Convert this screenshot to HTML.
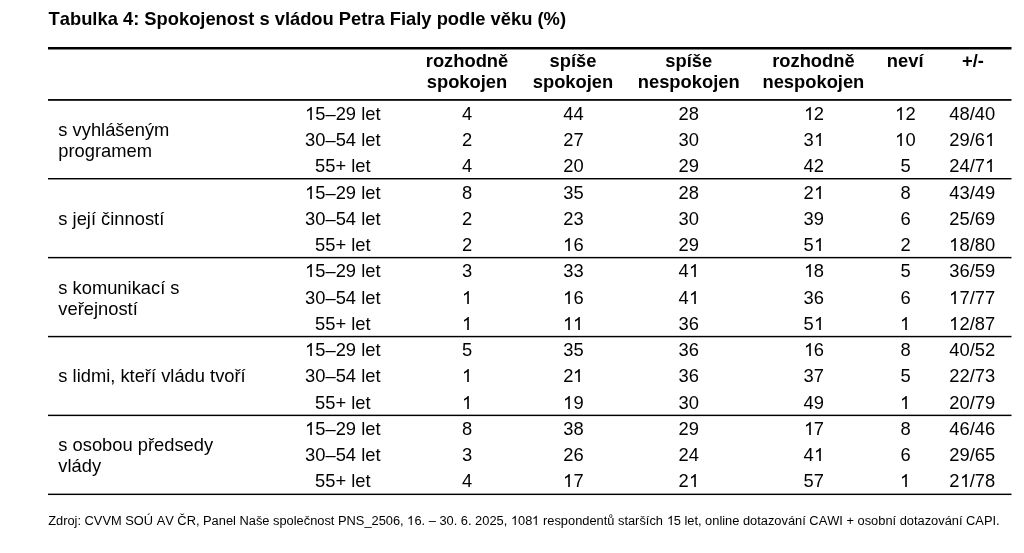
<!DOCTYPE html>
<html lang="cs"><head><meta charset="utf-8"><title>Tabulka 4</title>
<style>
html,body{margin:0;padding:0;background:#fff;}
body{width:1024px;height:553px;position:relative;overflow:hidden;font-family:"Liberation Sans",sans-serif;color:#000;font-kerning:none;}
#w{position:absolute;left:0;top:0;width:1024px;height:553px;will-change:transform;}
.t{position:absolute;white-space:nowrap;line-height:20px;font-size:18.33px;}
.c{text-align:center;width:160px;margin-left:-80px;}
.b{font-weight:bold;}
svg{position:absolute;left:0;top:0;}
.o{position:relative;color:transparent;}
.o svg{left:0;top:0;width:.55615em;height:21px;fill:#000;}
.f .o svg{height:15px;}
</style></head><body><div id="w">
<div class="t b" style="left:48.6px;top:9px;font-size:18.33px">Tabulka 4: Spokojenost s vládou Petra Fialy podle věku (%)</div>
<svg width="1024" height="553" viewBox="0 0 1024 553">
<rect x="48" y="47.0" width="963.5" height="2.5" fill="#000"/>
<rect x="48" y="99.05" width="963.5" height="1.75" fill="#000"/>
<rect x="48" y="178.0" width="963.5" height="1.45" fill="#000"/>
<rect x="48" y="256.9" width="963.5" height="1.45" fill="#000"/>
<rect x="48" y="335.85" width="963.5" height="1.45" fill="#000"/>
<rect x="48" y="414.65" width="963.5" height="1.45" fill="#000"/>
<rect x="48" y="493.6" width="963.5" height="1.45" fill="#000"/>
</svg>
<div class="t b c" style="left:467px;top:51px">rozhodně</div>
<div class="t b c" style="left:467px;top:72px">spokojen</div>
<div class="t b c" style="left:573px;top:51px">spíše</div>
<div class="t b c" style="left:573px;top:72px">spokojen</div>
<div class="t b c" style="left:688.7px;top:51px">spíše</div>
<div class="t b c" style="left:688.7px;top:72px">nespokojen</div>
<div class="t b c" style="left:813.4px;top:51px">rozhodně</div>
<div class="t b c" style="left:813.4px;top:72px">nespokojen</div>
<div class="t b c" style="left:905.2px;top:51px">neví</div>
<div class="t b c" style="left:973.0px;top:51px">+/-</div>
<div class="t c" style="left:342.8px;top:104px"><span class="o">1<svg viewBox="0 -1899.4 1139 2346.3"><path transform="scale(1,-1)" d="M763 0H583V1147Q518 1085 412.5 1023T223 930V1104Q373 1174.5 485.5 1275T644 1466H763Z"/></svg></span>5–29 let</div>
<div class="t c" style="left:467px;top:104px">4</div>
<div class="t c" style="left:573.4px;top:104px">44</div>
<div class="t c" style="left:688.7px;top:104px">28</div>
<div class="t c" style="left:813.8px;top:104px"><span class="o">1<svg viewBox="0 -1899.4 1139 2346.3"><path transform="scale(1,-1)" d="M763 0H583V1147Q518 1085 412.5 1023T223 930V1104Q373 1174.5 485.5 1275T644 1466H763Z"/></svg></span>2</div>
<div class="t c" style="left:905.6px;top:104px"><span class="o">1<svg viewBox="0 -1899.4 1139 2346.3"><path transform="scale(1,-1)" d="M763 0H583V1147Q518 1085 412.5 1023T223 930V1104Q373 1174.5 485.5 1275T644 1466H763Z"/></svg></span>2</div>
<div class="t c" style="left:972.3px;top:104px">48/40</div>
<div class="t c" style="left:342.8px;top:130px">30–54 let</div>
<div class="t c" style="left:467px;top:130px">2</div>
<div class="t c" style="left:573.4px;top:130px">27</div>
<div class="t c" style="left:688.7px;top:130px">30</div>
<div class="t c" style="left:813.8px;top:130px">3<span class="o">1<svg viewBox="0 -1899.4 1139 2346.3"><path transform="scale(1,-1)" d="M763 0H583V1147Q518 1085 412.5 1023T223 930V1104Q373 1174.5 485.5 1275T644 1466H763Z"/></svg></span></div>
<div class="t c" style="left:905.6px;top:130px"><span class="o">1<svg viewBox="0 -1899.4 1139 2346.3"><path transform="scale(1,-1)" d="M763 0H583V1147Q518 1085 412.5 1023T223 930V1104Q373 1174.5 485.5 1275T644 1466H763Z"/></svg></span>0</div>
<div class="t c" style="left:972.3px;top:130px">29/6<span class="o">1<svg viewBox="0 -1899.4 1139 2346.3"><path transform="scale(1,-1)" d="M763 0H583V1147Q518 1085 412.5 1023T223 930V1104Q373 1174.5 485.5 1275T644 1466H763Z"/></svg></span></div>
<div class="t c" style="left:342.8px;top:156px">55+ let</div>
<div class="t c" style="left:467px;top:156px">4</div>
<div class="t c" style="left:573.4px;top:156px">20</div>
<div class="t c" style="left:688.7px;top:156px">29</div>
<div class="t c" style="left:813.8px;top:156px">42</div>
<div class="t c" style="left:905.6px;top:156px">5</div>
<div class="t c" style="left:972.3px;top:156px">24/7<span class="o">1<svg viewBox="0 -1899.4 1139 2346.3"><path transform="scale(1,-1)" d="M763 0H583V1147Q518 1085 412.5 1023T223 930V1104Q373 1174.5 485.5 1275T644 1466H763Z"/></svg></span></div>
<div class="t" style="left:58.3px;top:120px">s vyhlášeným</div>
<div class="t" style="left:58.3px;top:141px">programem</div>
<div class="t c" style="left:342.8px;top:183px"><span class="o">1<svg viewBox="0 -1899.4 1139 2346.3"><path transform="scale(1,-1)" d="M763 0H583V1147Q518 1085 412.5 1023T223 930V1104Q373 1174.5 485.5 1275T644 1466H763Z"/></svg></span>5–29 let</div>
<div class="t c" style="left:467px;top:183px">8</div>
<div class="t c" style="left:573.4px;top:183px">35</div>
<div class="t c" style="left:688.7px;top:183px">28</div>
<div class="t c" style="left:813.8px;top:183px">2<span class="o">1<svg viewBox="0 -1899.4 1139 2346.3"><path transform="scale(1,-1)" d="M763 0H583V1147Q518 1085 412.5 1023T223 930V1104Q373 1174.5 485.5 1275T644 1466H763Z"/></svg></span></div>
<div class="t c" style="left:905.6px;top:183px">8</div>
<div class="t c" style="left:972.3px;top:183px">43/49</div>
<div class="t c" style="left:342.8px;top:209px">30–54 let</div>
<div class="t c" style="left:467px;top:209px">2</div>
<div class="t c" style="left:573.4px;top:209px">23</div>
<div class="t c" style="left:688.7px;top:209px">30</div>
<div class="t c" style="left:813.8px;top:209px">39</div>
<div class="t c" style="left:905.6px;top:209px">6</div>
<div class="t c" style="left:972.3px;top:209px">25/69</div>
<div class="t c" style="left:342.8px;top:235px">55+ let</div>
<div class="t c" style="left:467px;top:235px">2</div>
<div class="t c" style="left:573.4px;top:235px"><span class="o">1<svg viewBox="0 -1899.4 1139 2346.3"><path transform="scale(1,-1)" d="M763 0H583V1147Q518 1085 412.5 1023T223 930V1104Q373 1174.5 485.5 1275T644 1466H763Z"/></svg></span>6</div>
<div class="t c" style="left:688.7px;top:235px">29</div>
<div class="t c" style="left:813.8px;top:235px">5<span class="o">1<svg viewBox="0 -1899.4 1139 2346.3"><path transform="scale(1,-1)" d="M763 0H583V1147Q518 1085 412.5 1023T223 930V1104Q373 1174.5 485.5 1275T644 1466H763Z"/></svg></span></div>
<div class="t c" style="left:905.6px;top:235px">2</div>
<div class="t c" style="left:972.3px;top:235px"><span class="o">1<svg viewBox="0 -1899.4 1139 2346.3"><path transform="scale(1,-1)" d="M763 0H583V1147Q518 1085 412.5 1023T223 930V1104Q373 1174.5 485.5 1275T644 1466H763Z"/></svg></span>8/80</div>
<div class="t" style="left:58.3px;top:209px">s její činností</div>
<div class="t c" style="left:342.8px;top:261px"><span class="o">1<svg viewBox="0 -1899.4 1139 2346.3"><path transform="scale(1,-1)" d="M763 0H583V1147Q518 1085 412.5 1023T223 930V1104Q373 1174.5 485.5 1275T644 1466H763Z"/></svg></span>5–29 let</div>
<div class="t c" style="left:467px;top:261px">3</div>
<div class="t c" style="left:573.4px;top:261px">33</div>
<div class="t c" style="left:688.7px;top:261px">4<span class="o">1<svg viewBox="0 -1899.4 1139 2346.3"><path transform="scale(1,-1)" d="M763 0H583V1147Q518 1085 412.5 1023T223 930V1104Q373 1174.5 485.5 1275T644 1466H763Z"/></svg></span></div>
<div class="t c" style="left:813.8px;top:261px"><span class="o">1<svg viewBox="0 -1899.4 1139 2346.3"><path transform="scale(1,-1)" d="M763 0H583V1147Q518 1085 412.5 1023T223 930V1104Q373 1174.5 485.5 1275T644 1466H763Z"/></svg></span>8</div>
<div class="t c" style="left:905.6px;top:261px">5</div>
<div class="t c" style="left:972.3px;top:261px">36/59</div>
<div class="t c" style="left:342.8px;top:288px">30–54 let</div>
<div class="t c" style="left:467px;top:288px"><span class="o">1<svg viewBox="0 -1899.4 1139 2346.3"><path transform="scale(1,-1)" d="M763 0H583V1147Q518 1085 412.5 1023T223 930V1104Q373 1174.5 485.5 1275T644 1466H763Z"/></svg></span></div>
<div class="t c" style="left:573.4px;top:288px"><span class="o">1<svg viewBox="0 -1899.4 1139 2346.3"><path transform="scale(1,-1)" d="M763 0H583V1147Q518 1085 412.5 1023T223 930V1104Q373 1174.5 485.5 1275T644 1466H763Z"/></svg></span>6</div>
<div class="t c" style="left:688.7px;top:288px">4<span class="o">1<svg viewBox="0 -1899.4 1139 2346.3"><path transform="scale(1,-1)" d="M763 0H583V1147Q518 1085 412.5 1023T223 930V1104Q373 1174.5 485.5 1275T644 1466H763Z"/></svg></span></div>
<div class="t c" style="left:813.8px;top:288px">36</div>
<div class="t c" style="left:905.6px;top:288px">6</div>
<div class="t c" style="left:972.3px;top:288px"><span class="o">1<svg viewBox="0 -1899.4 1139 2346.3"><path transform="scale(1,-1)" d="M763 0H583V1147Q518 1085 412.5 1023T223 930V1104Q373 1174.5 485.5 1275T644 1466H763Z"/></svg></span>7/77</div>
<div class="t c" style="left:342.8px;top:314px">55+ let</div>
<div class="t c" style="left:467px;top:314px"><span class="o">1<svg viewBox="0 -1899.4 1139 2346.3"><path transform="scale(1,-1)" d="M763 0H583V1147Q518 1085 412.5 1023T223 930V1104Q373 1174.5 485.5 1275T644 1466H763Z"/></svg></span></div>
<div class="t c" style="left:573.4px;top:314px"><span class="o">1<svg viewBox="0 -1899.4 1139 2346.3"><path transform="scale(1,-1)" d="M763 0H583V1147Q518 1085 412.5 1023T223 930V1104Q373 1174.5 485.5 1275T644 1466H763Z"/></svg></span><span class="o">1<svg viewBox="0 -1899.4 1139 2346.3"><path transform="scale(1,-1)" d="M763 0H583V1147Q518 1085 412.5 1023T223 930V1104Q373 1174.5 485.5 1275T644 1466H763Z"/></svg></span></div>
<div class="t c" style="left:688.7px;top:314px">36</div>
<div class="t c" style="left:813.8px;top:314px">5<span class="o">1<svg viewBox="0 -1899.4 1139 2346.3"><path transform="scale(1,-1)" d="M763 0H583V1147Q518 1085 412.5 1023T223 930V1104Q373 1174.5 485.5 1275T644 1466H763Z"/></svg></span></div>
<div class="t c" style="left:905.6px;top:314px"><span class="o">1<svg viewBox="0 -1899.4 1139 2346.3"><path transform="scale(1,-1)" d="M763 0H583V1147Q518 1085 412.5 1023T223 930V1104Q373 1174.5 485.5 1275T644 1466H763Z"/></svg></span></div>
<div class="t c" style="left:972.3px;top:314px"><span class="o">1<svg viewBox="0 -1899.4 1139 2346.3"><path transform="scale(1,-1)" d="M763 0H583V1147Q518 1085 412.5 1023T223 930V1104Q373 1174.5 485.5 1275T644 1466H763Z"/></svg></span>2/87</div>
<div class="t" style="left:58.3px;top:278px">s komunikací s</div>
<div class="t" style="left:58.3px;top:299px">veřejností</div>
<div class="t c" style="left:342.8px;top:340px"><span class="o">1<svg viewBox="0 -1899.4 1139 2346.3"><path transform="scale(1,-1)" d="M763 0H583V1147Q518 1085 412.5 1023T223 930V1104Q373 1174.5 485.5 1275T644 1466H763Z"/></svg></span>5–29 let</div>
<div class="t c" style="left:467px;top:340px">5</div>
<div class="t c" style="left:573.4px;top:340px">35</div>
<div class="t c" style="left:688.7px;top:340px">36</div>
<div class="t c" style="left:813.8px;top:340px"><span class="o">1<svg viewBox="0 -1899.4 1139 2346.3"><path transform="scale(1,-1)" d="M763 0H583V1147Q518 1085 412.5 1023T223 930V1104Q373 1174.5 485.5 1275T644 1466H763Z"/></svg></span>6</div>
<div class="t c" style="left:905.6px;top:340px">8</div>
<div class="t c" style="left:972.3px;top:340px">40/52</div>
<div class="t c" style="left:342.8px;top:366px">30–54 let</div>
<div class="t c" style="left:467px;top:366px"><span class="o">1<svg viewBox="0 -1899.4 1139 2346.3"><path transform="scale(1,-1)" d="M763 0H583V1147Q518 1085 412.5 1023T223 930V1104Q373 1174.5 485.5 1275T644 1466H763Z"/></svg></span></div>
<div class="t c" style="left:573.4px;top:366px">2<span class="o">1<svg viewBox="0 -1899.4 1139 2346.3"><path transform="scale(1,-1)" d="M763 0H583V1147Q518 1085 412.5 1023T223 930V1104Q373 1174.5 485.5 1275T644 1466H763Z"/></svg></span></div>
<div class="t c" style="left:688.7px;top:366px">36</div>
<div class="t c" style="left:813.8px;top:366px">37</div>
<div class="t c" style="left:905.6px;top:366px">5</div>
<div class="t c" style="left:972.3px;top:366px">22/73</div>
<div class="t c" style="left:342.8px;top:393px">55+ let</div>
<div class="t c" style="left:467px;top:393px"><span class="o">1<svg viewBox="0 -1899.4 1139 2346.3"><path transform="scale(1,-1)" d="M763 0H583V1147Q518 1085 412.5 1023T223 930V1104Q373 1174.5 485.5 1275T644 1466H763Z"/></svg></span></div>
<div class="t c" style="left:573.4px;top:393px"><span class="o">1<svg viewBox="0 -1899.4 1139 2346.3"><path transform="scale(1,-1)" d="M763 0H583V1147Q518 1085 412.5 1023T223 930V1104Q373 1174.5 485.5 1275T644 1466H763Z"/></svg></span>9</div>
<div class="t c" style="left:688.7px;top:393px">30</div>
<div class="t c" style="left:813.8px;top:393px">49</div>
<div class="t c" style="left:905.6px;top:393px"><span class="o">1<svg viewBox="0 -1899.4 1139 2346.3"><path transform="scale(1,-1)" d="M763 0H583V1147Q518 1085 412.5 1023T223 930V1104Q373 1174.5 485.5 1275T644 1466H763Z"/></svg></span></div>
<div class="t c" style="left:972.3px;top:393px">20/79</div>
<div class="t" style="left:58.3px;top:366px">s lidmi, kteří vládu tvoří</div>
<div class="t c" style="left:342.8px;top:419px"><span class="o">1<svg viewBox="0 -1899.4 1139 2346.3"><path transform="scale(1,-1)" d="M763 0H583V1147Q518 1085 412.5 1023T223 930V1104Q373 1174.5 485.5 1275T644 1466H763Z"/></svg></span>5–29 let</div>
<div class="t c" style="left:467px;top:419px">8</div>
<div class="t c" style="left:573.4px;top:419px">38</div>
<div class="t c" style="left:688.7px;top:419px">29</div>
<div class="t c" style="left:813.8px;top:419px"><span class="o">1<svg viewBox="0 -1899.4 1139 2346.3"><path transform="scale(1,-1)" d="M763 0H583V1147Q518 1085 412.5 1023T223 930V1104Q373 1174.5 485.5 1275T644 1466H763Z"/></svg></span>7</div>
<div class="t c" style="left:905.6px;top:419px">8</div>
<div class="t c" style="left:972.3px;top:419px">46/46</div>
<div class="t c" style="left:342.8px;top:445px">30–54 let</div>
<div class="t c" style="left:467px;top:445px">3</div>
<div class="t c" style="left:573.4px;top:445px">26</div>
<div class="t c" style="left:688.7px;top:445px">24</div>
<div class="t c" style="left:813.8px;top:445px">4<span class="o">1<svg viewBox="0 -1899.4 1139 2346.3"><path transform="scale(1,-1)" d="M763 0H583V1147Q518 1085 412.5 1023T223 930V1104Q373 1174.5 485.5 1275T644 1466H763Z"/></svg></span></div>
<div class="t c" style="left:905.6px;top:445px">6</div>
<div class="t c" style="left:972.3px;top:445px">29/65</div>
<div class="t c" style="left:342.8px;top:471px">55+ let</div>
<div class="t c" style="left:467px;top:471px">4</div>
<div class="t c" style="left:573.4px;top:471px"><span class="o">1<svg viewBox="0 -1899.4 1139 2346.3"><path transform="scale(1,-1)" d="M763 0H583V1147Q518 1085 412.5 1023T223 930V1104Q373 1174.5 485.5 1275T644 1466H763Z"/></svg></span>7</div>
<div class="t c" style="left:688.7px;top:471px">2<span class="o">1<svg viewBox="0 -1899.4 1139 2346.3"><path transform="scale(1,-1)" d="M763 0H583V1147Q518 1085 412.5 1023T223 930V1104Q373 1174.5 485.5 1275T644 1466H763Z"/></svg></span></div>
<div class="t c" style="left:813.8px;top:471px">57</div>
<div class="t c" style="left:905.6px;top:471px"><span class="o">1<svg viewBox="0 -1899.4 1139 2346.3"><path transform="scale(1,-1)" d="M763 0H583V1147Q518 1085 412.5 1023T223 930V1104Q373 1174.5 485.5 1275T644 1466H763Z"/></svg></span></div>
<div class="t c" style="left:972.3px;top:471px">2<span class="o">1<svg viewBox="0 -1899.4 1139 2346.3"><path transform="scale(1,-1)" d="M763 0H583V1147Q518 1085 412.5 1023T223 930V1104Q373 1174.5 485.5 1275T644 1466H763Z"/></svg></span>/78</div>
<div class="t" style="left:58.3px;top:435px">s osobou předsedy</div>
<div class="t" style="left:58.3px;top:456px">vlády</div>
<div class="t f" style="left:48.2px;top:511px;font-size:12.85px">Zdroj: CVVM SOÚ AV ČR, Panel Naše společnost PNS_2506, <span class="o">1<svg viewBox="0 -1912.5 1139 2390.7"><path transform="scale(1,-1)" d="M763 0H583V1147Q518 1085 412.5 1023T223 930V1104Q373 1174.5 485.5 1275T644 1466H763Z"/></svg></span>6. – 30. 6. 2025, <span class="o">1<svg viewBox="0 -1912.5 1139 2390.7"><path transform="scale(1,-1)" d="M763 0H583V1147Q518 1085 412.5 1023T223 930V1104Q373 1174.5 485.5 1275T644 1466H763Z"/></svg></span>08<span class="o">1<svg viewBox="0 -1912.5 1139 2390.7"><path transform="scale(1,-1)" d="M763 0H583V1147Q518 1085 412.5 1023T223 930V1104Q373 1174.5 485.5 1275T644 1466H763Z"/></svg></span> respondentů starších <span class="o">1<svg viewBox="0 -1912.5 1139 2390.7"><path transform="scale(1,-1)" d="M763 0H583V1147Q518 1085 412.5 1023T223 930V1104Q373 1174.5 485.5 1275T644 1466H763Z"/></svg></span>5 let, online dotazování CAWI + osobní dotazování CAPI.</div>
</div></body></html>
